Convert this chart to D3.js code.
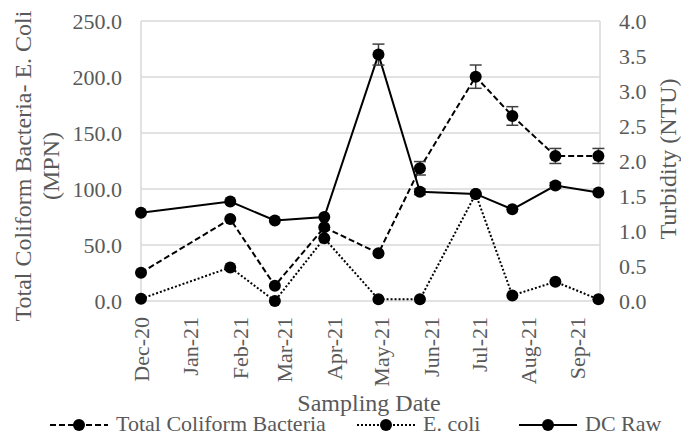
<!DOCTYPE html>
<html>
<head>
<meta charset="utf-8">
<script src="https://cdn.jsdelivr.net/npm/d3@7"></script>
<style>
  body { margin: 0; background: #fff; }
  text { font-family: "Liberation Serif", "Times New Roman", serif; fill: #595959; }
</style>
</head>
<body>
<div id="chart"></div>
<script>
const WIDTH = 681
const HEIGHT = 437
const MARGIN = {top: 21, right: 81, bottom: 136, left: 141}

const sampleDates = ['2020-12-01', '2021-01-26', '2021-02-23', '2021-03-26', '2021-04-29',
                     '2021-05-25', '2021-06-29', '2021-07-22', '2021-08-18', '2021-09-14']
const totalColiform = [25.3, 73.2, 13.7, 65.8, 42.6, 118.5, 200.3, 165.2, 129.5, 129.5]
const totalColiformErr = [0, 0, 0, 0, 0, 6, 10.4, 8.3, 6.7, 6.7]
const eColi = [2, 30, 0, 56, 1.5, 1.5, 95.5, 5, 17.2, 1.5]
const dcRaw = [1.26, 1.42, 1.15, 1.20, 3.52, 1.56, 1.53, 1.31, 1.65, 1.55]
const dcRawErr = [0, 0, 0, 0, 0.15, 0.04, 0, 0, 0.04, 0]

const leftTicks = [0, 50, 100, 150, 200, 250]
const rightTicks = [0, 0.5, 1, 1.5, 2, 2.5, 3, 3.5, 4]
const seriesNames = ['Total Coliform Bacteria', 'E. coli', 'DC Raw']

const parse = d3.timeParse('%Y-%m-%d')
const dates = sampleDates.map(parse)

const innerW = WIDTH - MARGIN.left - MARGIN.right
const innerH = HEIGHT - MARGIN.top - MARGIN.bottom

let svg = d3.select('#chart').append('svg')
    .attr('width', WIDTH)
    .attr('height', HEIGHT)

let x = d3.scaleTime()
    .domain([parse('2020-12-01'), parse('2021-09-15')])
    .range([0, innerW])
let yLeft = d3.scaleLinear().domain([0, 250]).range([innerH, 0])
let yRight = d3.scaleLinear().domain([0, 4]).range([innerH, 0])

let g = svg.append('g')
    .attr('transform', 'translate(' + MARGIN.left + ',' + MARGIN.top + ')')

// gridlines
g.selectAll('.grid')
    .data(leftTicks)
    .join('line')
    .attr('x1', 0).attr('x2', innerW)
    .attr('y1', d => yLeft(d)).attr('y2', d => yLeft(d))
    .style('stroke', '#d9d9d9')
    .style('stroke-width', 1.5)

// plot border (left and right)
g.append('line').attr('x1', 0).attr('x2', 0).attr('y1', 0).attr('y2', innerH)
    .style('stroke', '#d9d9d9').style('stroke-width', 1.5)
g.append('line').attr('x1', innerW).attr('x2', innerW).attr('y1', 0).attr('y2', innerH)
    .style('stroke', '#d9d9d9').style('stroke-width', 1.5)

// axes
let leftAxis = g.append('g')
    .call(d3.axisLeft(yLeft).tickValues(leftTicks).tickSize(0).tickPadding(19).tickFormat(d3.format('.1f')))
leftAxis.select('.domain').remove()
leftAxis.selectAll('text').style('font-size', '22px').attr('fill', null)

let rightAxis = g.append('g')
    .attr('transform', 'translate(' + innerW + ',0)')
    .call(d3.axisRight(yRight).tickValues(rightTicks).tickSize(0).tickPadding(19).tickFormat(d3.format('.1f')))
rightAxis.select('.domain').remove()
rightAxis.selectAll('text').style('font-size', '22px').attr('fill', null)

let xAxis = g.append('g')
    .attr('transform', 'translate(0,' + innerH + ')')
    .call(d3.axisBottom(x).ticks(d3.timeMonth.every(1)).tickSize(0).tickFormat(d3.timeFormat('%b-%y')))
xAxis.select('.domain').remove()
xAxis.selectAll('text')
    .attr('fill', null)
    .style('font-size', '22px')
    .attr('text-anchor', 'end')
    .attr('transform', 'rotate(-90)')
    .attr('x', -16)
    .attr('y', 0)
    .attr('dy', '0.33em')

// axis titles
let leftTitle = svg.append('text')
    .attr('transform', 'translate(31,166) rotate(-90)')
    .attr('text-anchor', 'middle')
    .style('font-size', '24px')
leftTitle.append('tspan').attr('x', 0).attr('y', 0).text('Total Coliform Bacteria- E. Coli')
leftTitle.append('tspan').attr('x', 0).attr('y', 28).text('(MPN)')

svg.append('text')
    .attr('transform', 'translate(676,159) rotate(-90)')
    .attr('text-anchor', 'middle')
    .style('font-size', '24px')
    .text('Turbidity (NTU)')

svg.append('text')
    .attr('x', 369).attr('y', 411)
    .attr('text-anchor', 'middle')
    .style('font-size', '24px')
    .text('Sampling Date')

// series
const series = [
    {name: seriesNames[0], values: totalColiform, err: totalColiformErr, y: yLeft, dash: '6,3'},
    {name: seriesNames[1], values: eColi, err: null, y: yLeft, dash: '2,2'},
    {name: seriesNames[2], values: dcRaw, err: dcRawErr, y: yRight, dash: null}
]

for (let s of series) {
    let pts = dates.map((d, i) => ({date: d, v: s.values[i], e: s.err ? s.err[i] : 0}))
    let line = d3.line().x(d => x(d.date)).y(d => s.y(d.v))

    g.append('path')
        .datum(pts)
        .attr('d', line)
        .attr('fill', 'none')
        .style('stroke', '#000')
        .style('stroke-width', 2)
        .style('stroke-dasharray', s.dash)

    let errPts = pts.filter(d => d.e > 0)
    let eb = g.append('g')
    eb.selectAll('.stem').data(errPts).join('line')
        .attr('x1', d => x(d.date)).attr('x2', d => x(d.date))
        .attr('y1', d => s.y(d.v - d.e)).attr('y2', d => s.y(d.v + d.e))
        .style('stroke', '#404040').style('stroke-width', 1.5)
    eb.selectAll('.capTop').data(errPts).join('line')
        .attr('x1', d => x(d.date) - 6).attr('x2', d => x(d.date) + 6)
        .attr('y1', d => s.y(d.v + d.e)).attr('y2', d => s.y(d.v + d.e))
        .style('stroke', '#404040').style('stroke-width', 1.5)
    eb.selectAll('.capBot').data(errPts).join('line')
        .attr('x1', d => x(d.date) - 6).attr('x2', d => x(d.date) + 6)
        .attr('y1', d => s.y(d.v - d.e)).attr('y2', d => s.y(d.v - d.e))
        .style('stroke', '#404040').style('stroke-width', 1.5)

    g.append('g').selectAll('circle')
        .data(pts)
        .join('circle')
        .attr('cx', d => x(d.date))
        .attr('cy', d => s.y(d.v))
        .attr('r', 6)
        .style('fill', '#000')
}

// legend
const legendX = [116, 423, 585]
let legend = svg.append('g')
series.forEach((s, i) => {
    let lx = legendX[i]
    legend.append('line')
        .attr('x1', lx - 66).attr('x2', lx - 8)
        .attr('y1', 425).attr('y2', 425)
        .style('stroke', '#000').style('stroke-width', 2)
        .style('stroke-dasharray', s.dash)
    legend.append('circle')
        .attr('cx', lx - 37).attr('cy', 425).attr('r', 6)
        .style('fill', '#000')
    legend.append('text')
        .attr('x', lx).attr('y', 431)
        .style('font-size', '22px')
        .text(s.name)
})
</script>
</body>
</html>
